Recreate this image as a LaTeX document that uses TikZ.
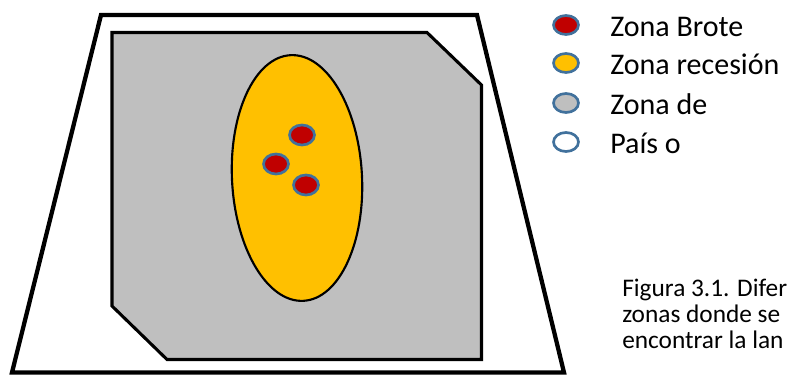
\documentclass[tikz,border=0pt]{standalone}
\usepackage{fontspec}
\setmainfont{Carlito}
\definecolor{zgray}{HTML}{BFBFBF}
\definecolor{zyellow}{HTML}{FFC000}
\definecolor{zred}{HTML}{C00000}
\definecolor{zblue}{HTML}{41719C}
\tikzset{
  mark dot/.style={draw=zblue,line width=2pt},
  legtext/.style={anchor=base west,inner sep=0pt,font=\fontsize{22.5}{27}\selectfont},
  captext/.style={anchor=base west,inner sep=0pt,font=\fontsize{19}{23}\selectfont}
}
\begin{document}
\begin{tikzpicture}[x=0.75pt,y=0.75pt]
  \useasboundingbox (0,0) rectangle (790,375);
  % country outline
  \draw[line width=3.2pt,line join=miter] (101,360)--(477,360)--(564,2.5)--(12,2.5)--cycle;
  % zone of invasion
  \draw[fill=zgray,line width=2.3pt,line join=miter]
    (112,342.5)--(427,342.5)--(481.5,290)--(481.5,15.5)--(167,15.5)--(112,69)--cycle;
  % recession zone
  \draw[fill=zyellow,line width=1.6pt,rotate around={3:(297,197)}] (297,197) ellipse (65 and 123);
  % outbreaks
  \foreach \x/\y/\n in {302/240/a,276/211/b,306/190/c}
    {\fill[zred,mark dot] (\x,\y) coordinate (brote-\n) ellipse (12.5 and 10);}
  % legend
  \foreach \y/\c/\t/\n in {350/zred/Zona Brote/1,312/zyellow/Zona recesión/2,272/zgray/Zona de/3,233/white/País o/4}
    {\fill[\c,mark dot] (566,\y) coordinate (ley-\n) ellipse (12.5 and 9.5);
     \node[legtext] (txt-\n) at (610,\y-12) {\t};}
  % caption
  \node[captext] (cap-1) at (622,78) {Figura 3.1. Difer};
  \node[captext] (cap-2) at (622,52) {zonas donde se};
  \node[captext] (cap-3) at (622,26) {encontrar la lan};
\end{tikzpicture}
\end{document}
